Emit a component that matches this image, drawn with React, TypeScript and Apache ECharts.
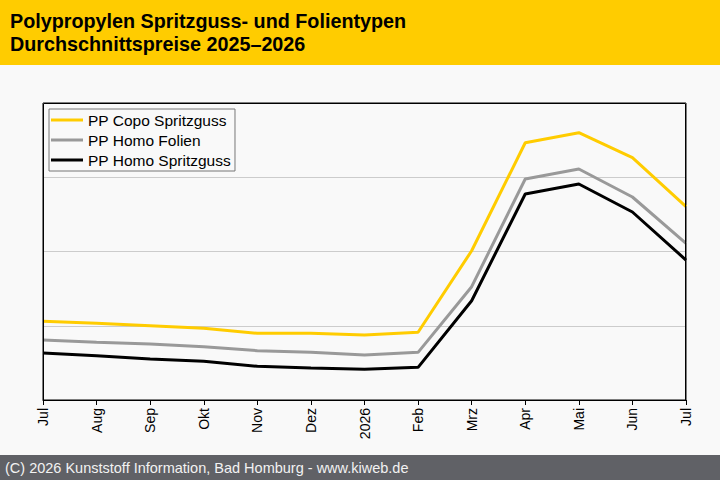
import React, { useEffect, useRef } from "react";
import * as echarts from "echarts";

const titleLines = ["Polypropylen Spritzguss- und Folientypen", "Durchschnittspreise 2025–2026"];
const footerText = "(C) 2026 Kunststoff Information, Bad Homburg - www.kiweb.de";
const months = ["Jul", "Aug", "Sep", "Okt", "Nov", "Dez", "2026", "Feb", "Mrz", "Apr", "Mai", "Jun", "Jul"];
const seriesNames = ["PP Copo Spritzguss", "PP Homo Folien", "PP Homo Spritzguss"];
const copoSpritzguss = [106, 103.3, 100, 96.6, 89.8, 89.8, 87.5, 91.2, 201, 346.5, 360, 326.3, 260.3];
const homoFolien = [80.8, 77.7, 75.4, 71.8, 66.4, 64.2, 60.6, 64.2, 152.6, 297.6, 311.1, 273.4, 211];
const homoSpritzguss = [63.3, 59.7, 55.2, 52.1, 45.4, 43.1, 41.3, 44, 133.7, 277.4, 290.9, 253.2, 188.5];
const seriesColors = ["#ffcc00", "#999999", "#000000"];

const FONT = "'Liberation Sans', Arial, Helvetica, sans-serif";

export default function App() {
  const ref = useRef<HTMLDivElement>(null);
  useEffect(() => {
    if (!ref.current) return;
    const chart = echarts.init(ref.current, undefined, { renderer: "svg" });
    const data = [copoSpritzguss, homoFolien, homoSpritzguss];
    chart.setOption({
      animation: false,
      backgroundColor: "#f9f9f9",
      textStyle: { fontFamily: FONT },
      graphic: [
        { type: "rect", left: 0, top: 0, shape: { width: 720, height: 65 }, style: { fill: "#ffcc00" }, silent: true },
        { type: "rect", left: 0, top: 455, shape: { width: 720, height: 25 }, style: { fill: "#606166" }, silent: true },
        {
          type: "rect", x: 43.5, y: 103.5, shape: { width: 642, height: 297 },
          style: { fill: "none", stroke: "#000", lineWidth: 1 }, z: 100, silent: true,
        },
        {
          type: "text", x: 10, y: 21.2,
          style: { text: titleLines[0], fill: "#000", font: `bold 19.75px ${FONT}`, verticalAlign: "middle", align: "left" },
        },
        {
          type: "text", x: 10, y: 43.8,
          style: { text: titleLines[1], fill: "#000", font: `bold 19.75px ${FONT}`, verticalAlign: "middle", align: "left" },
        },
        {
          type: "text", x: 5, y: 468,
          style: { text: footerText, fill: "#f2f2f2", font: `14.5px ${FONT}`, verticalAlign: "middle", align: "left" },
        },
      ],
      legend: {
        orient: "vertical",
        left: 49,
        top: 109,
        padding: [1, 4, 1, 2],
        itemGap: 0,
        itemWidth: 32,
        itemHeight: 3,
        icon: "rect",
        borderColor: "#777777",
        borderWidth: 1,
        backgroundColor: "#f9f9f9",
        textStyle: { fontSize: 15.5, lineHeight: 20, color: "#000", fontFamily: FONT },
        data: seriesNames,
      },
      grid: {
        show: true,
        left: 43,
        top: 103,
        right: 34,
        bottom: 80,
        borderColor: "#000",
        borderWidth: 1,
        backgroundColor: "#f9f9f9",
      },
      xAxis: {
        type: "category",
        data: months,
        boundaryGap: false,
        axisLine: { lineStyle: { color: "#000", width: 1 } },
        axisTick: { show: true, length: 5, lineStyle: { color: "#000" } },
        axisLabel: { rotate: 90, fontSize: 14, color: "#000", margin: 8, interval: 0, fontFamily: FONT },
      },
      yAxis: {
        type: "value",
        min: 0,
        max: 400,
        interval: 100,
        axisLabel: { show: false },
        axisLine: { show: false },
        axisTick: { show: false },
        splitLine: { lineStyle: { color: "#cccccc", width: 1 } },
      },
      series: seriesNames.map((name, i) => ({
        name,
        type: "line",
        data: data[i],
        showSymbol: false,
        symbol: "none",
        color: seriesColors[i],
        lineStyle: { color: seriesColors[i], width: 3 },
        z: 3 - i,
      })),
    });
    return () => chart.dispose();
  }, []);
  return <div ref={ref} style={{ position: "fixed", left: 0, top: 0, width: 720, height: 480 }} />;
}
